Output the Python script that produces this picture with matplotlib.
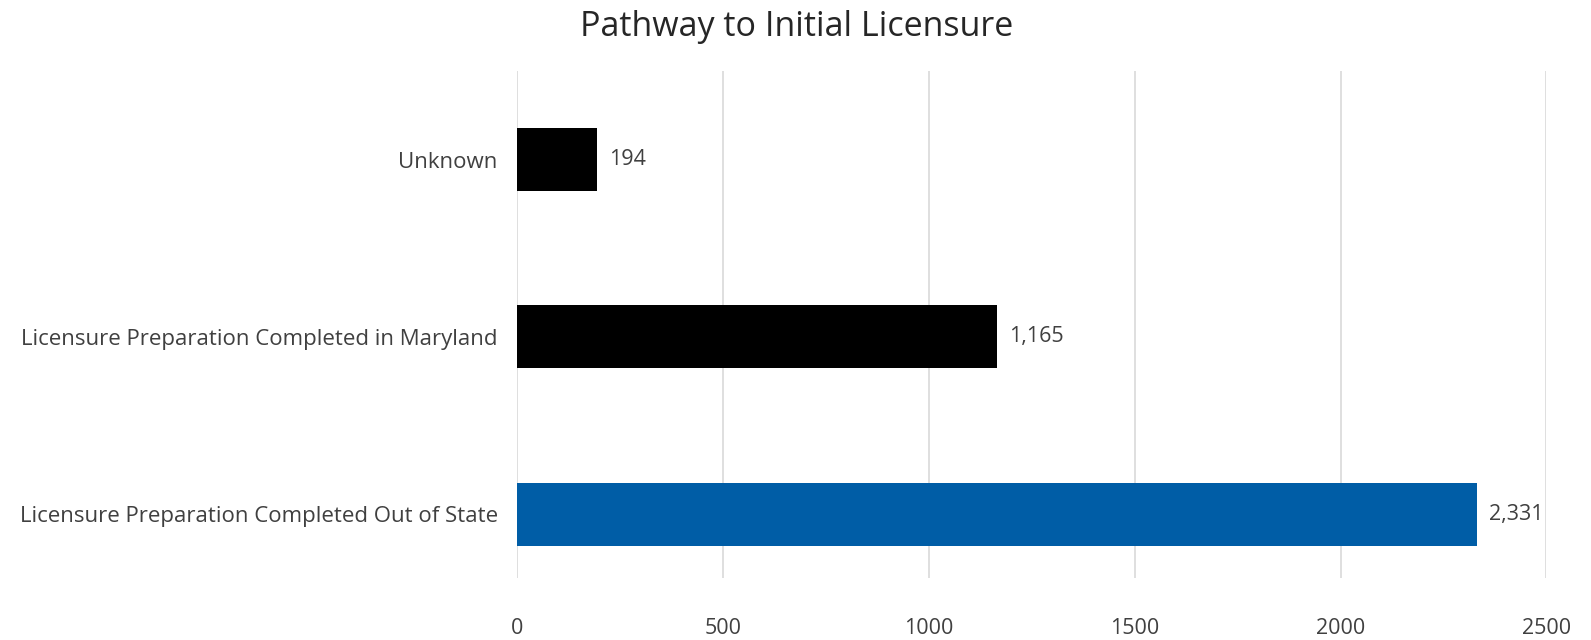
import matplotlib
matplotlib.use('Agg')
import matplotlib.pyplot as plt

# Data
categories = ['Licensure Preparation Completed Out of State',
              'Licensure Preparation Completed in Maryland',
              'Unknown']
values = [2331, 1165, 194]
bar_colors = ['#005DA6', '#000000', '#000000']
xticks = [0, 500, 1000, 1500, 2000, 2500]

plt.rcParams['font.family'] = ['Open Sans', 'DejaVu Sans']
text_color = '#404040'

fig = plt.figure(figsize=(15.91, 6.4), dpi=100)
ax = fig.add_axes([0.325, 0.097, 0.647, 0.792])

ypos = list(range(len(categories)))
ax.barh(ypos, values, height=0.355, color=bar_colors, zorder=3)

# value labels just right of each bar
for y, v in zip(ypos, values):
    ax.text(v + 30, y, f'{v:,}', va='center', ha='left', fontsize=15.5, color=text_color)

ax.set_xlim(0, 2500)
ax.set_ylim(-0.36, 2.5)
ax.set_xticks(xticks)
ax.set_xticklabels([str(t) for t in xticks], fontsize=15.5, color=text_color)
ax.set_yticks(ypos)
ax.set_yticklabels(categories, fontsize=16, color=text_color)
ax.tick_params(axis='both', length=0)
ax.tick_params(axis='x', pad=29)
ax.tick_params(axis='y', pad=14)

ax.grid(axis='x', color='#d9d9d9', linewidth=1.2, zorder=0)
for s in ax.spines.values():
    s.set_visible(False)

fig.suptitle('Pathway to Initial Licensure', x=0.501, y=0.985, fontsize=24.5, color='#262626', va='top')

fig.savefig('out.png', dpi=100, facecolor='white')
